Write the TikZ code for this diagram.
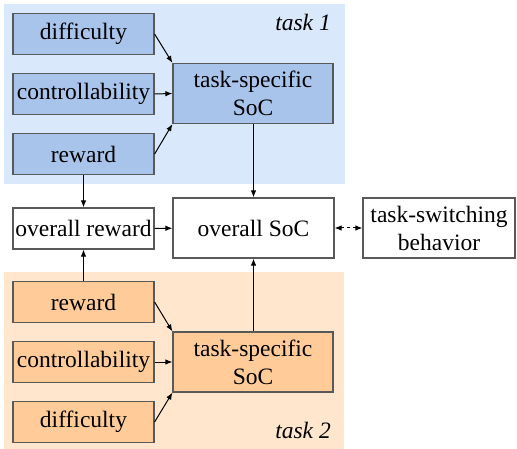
\documentclass[tikz,border=0pt]{standalone}
\usepackage{fontspec}
\setmainfont{Liberation Serif}
\usepackage{tikz}
\usetikzlibrary{arrows.meta}

\definecolor{taskAbg}{HTML}{DAE8FC}
\definecolor{taskAbox}{HTML}{A9C4EB}
\definecolor{taskBbg}{HTML}{FFE6CC}
\definecolor{taskBbox}{HTML}{FFCC99}
\definecolor{boxline}{HTML}{595959}

\begin{document}
\begin{tikzpicture}[x=1pt, y=-1pt]
    \tikzstyle{factor} = [rectangle, draw=boxline, line width=1.2pt, inner sep=0pt, minimum width=141pt, minimum height=41pt, font=\fontsize{23.5}{28}\selectfont]
    \tikzstyle{soc} = [rectangle, draw=boxline, line width=1.2pt, inner sep=0pt, minimum width=160pt, minimum height=60pt, align=center, font=\fontsize{23.5}{28}\selectfont]
    \tikzstyle{tasklabel} = [anchor=east, inner sep=0pt, font=\fontsize{23.5}{28}\selectfont\itshape]
    \tikzstyle{link} = [line width=1pt, -{Latex[length=7pt, width=5.5pt]}]

    \useasboundingbox (0,0) rectangle (517,449);

    % Task areas
    \fill[taskAbg] (4,4) rectangle (345,184);
    \fill[taskBbg] (4,272) rectangle (344,449);
    \node[tasklabel] (lab1) at (331,22) {task 1};
    \node[tasklabel] (lab2) at (331,430) {task 2};

    % Task 1
    \node[factor, fill=taskAbox] (diff1) at (83.5,34) {difficulty};
    \node[factor, fill=taskAbox] (ctrl1) at (83.5,94) {controllability};
    \node[factor, fill=taskAbox] (rew1) at (83.5,154) {reward};
    \node[soc, fill=taskAbox] (spec1) at (253,93.5) {task-specific\\SoC};

    % Task 2
    \node[factor, fill=taskBbox] (rew2) at (83.5,302) {reward};
    \node[factor, fill=taskBbox] (ctrl2) at (83.5,362) {controllability};
    \node[factor, fill=taskBbox] (diff2) at (83.5,422) {difficulty};
    \node[soc, fill=taskBbox] (spec2) at (253,362) {task-specific\\SoC};

    % Overall
    \node[factor, fill=white] (rewall) at (83.5,228.5) {overall reward};
    \node[soc, fill=white, minimum width=161pt] (socall) at (253.5,228) {overall SoC};
    \node[soc, fill=white, minimum width=152pt] (switch) at (439,228) {task-switching\\behavior};

    % Connections
    \draw[link] (diff1.east) -- (spec1.north west);
    \draw[link] (ctrl1.east) -- (spec1.west);
    \draw[link] (rew1.east) -- (spec1.south west);
    \draw[link] (rew2.east) -- (spec2.north west);
    \draw[link] (ctrl2.east) -- (spec2.west);
    \draw[link] (diff2.east) -- (spec2.south west);
    \draw[link] (rew1) -- (rewall);
    \draw[link] (rew2) -- (rewall);
    \draw[link] (rewall) -- (socall);
    \draw[link] (spec1.south -| socall.north) -- (socall.north);
    \draw[link] (spec2.north -| socall.south) -- (socall.south);
    \draw[link, {Latex[length=7pt, width=5.5pt]}-{Latex[length=7pt, width=5.5pt]}, dashed, dash pattern=on 3pt off 3pt] (socall) -- (switch);

\end{tikzpicture}
\end{document}
